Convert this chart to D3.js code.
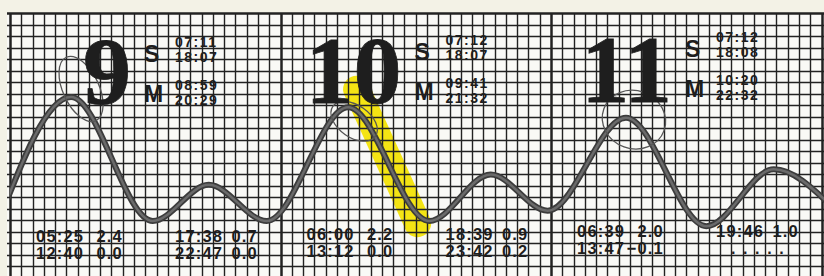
<!DOCTYPE html>
<html>
<head>
<meta charset="utf-8">
<script src="https://cdn.jsdelivr.net/npm/d3@7"></script>
<style>
  html, body { margin: 0; padding: 0; background: #f3f2e8; }
  svg { display: block; }
</style>
</head>
<body>
<svg id="chart" width="824" height="276"></svg>
<script>
// day headers
const days = ["9", "10", "11"];
const sunrise = ["07:11", "07:12", "07:12"];
const sunset = ["18:07", "18:07", "18:08"];
const moonrise = ["08:59", "09:41", "10:20"];
const moonset = ["20:29", "21:32", "22:32"];

// tide extremes per day (high, low, high, low)
const tideTimes = [
    ["05:25", "12:40", "17:38", "22:47"],
    ["06:00", "13:12", "18:39", "23:42"],
    ["06:39", "13:47", "19:46", null]
];
const tideHeights = [
    [2.4, 0.0, 0.7, 0.0],
    [2.2, 0.0, 0.9, 0.2],
    [2.0, -0.1, 1.0, null]
];

// extremes just outside the sheet, so the curve runs to the edges
const prevLow = { day: -1, time: "23:00", h: 0.0 };
const nextLow = { day: 3, time: "00:50", h: 0.3 };

const width = 824,
    height = 276;

const toHours = (day, t) => {
    const [hh, mm] = t.split(":").map(Number);
    return day * 24 + hh + mm / 60;
};

const x = d3.scaleLinear().domain([0, 48]).range([10, 551]);
const y = d3.scaleLinear().domain([0, 2.4]).range([221, 97]);
const fmt = d3.format(".1f");

let points = [{ t: toHours(prevLow.day, prevLow.time), h: prevLow.h }];
tideTimes.forEach((row, d) => row.forEach((t, i) => {
    if (t) points.push({ t: toHours(d, t), h: tideHeights[d][i] });
}));
points.push({ t: toHours(nextLow.day, nextLow.time), h: nextLow.h });

const svg = d3.select("#chart")
    .attr("viewBox", `0 0 ${width} ${height}`);

// paper
svg.append("rect").attr("width", width).attr("height", height).attr("fill", "#f3f2e6");
svg.append("rect").attr("x", 7).attr("y", 13).attr("width", width - 7).attr("height", height - 13)
    .attr("fill", "#f9f9f6");

svg.append("defs").append("clipPath").attr("id", "sheet")
    .append("rect").attr("x", x(0)).attr("y", 13).attr("width", width - x(0)).attr("height", height - 13);

// yellow marker stroke on day 10, under the grid
svg.append("line")
    .attr("x1", x(toHours(1, "06:45"))).attr("y1", y(2.55))
    .attr("x2", x(toHours(1, "12:10"))).attr("y2", y(-0.05))
    .attr("stroke", "#f4e414")
    .attr("stroke-width", 27)
    .attr("stroke-linecap", "round");

// graph paper
const grid = svg.append("g").attr("class", "grid").attr("stroke", "#222");
grid.selectAll("line.v")
    .data(d3.range(0, 73))
    .enter().append("line")
    .attr("class", "v")
    .attr("x1", d => Math.round(x(d)) + 0.5).attr("x2", d => Math.round(x(d)) + 0.5)
    .attr("y1", 13).attr("y2", height)
    .attr("stroke-width", d => d % 24 === 0 ? 2.5 : 1.4);
grid.selectAll("line.h")
    .data(d3.range(13, height + 1, 11.5))
    .enter().append("line")
    .attr("class", "h")
    .attr("x1", 7).attr("x2", width)
    .attr("y1", d => Math.round(d) + 0.5).attr("y2", d => Math.round(d) + 0.5)
    .attr("stroke-width", (d, i) => i === 0 ? 2.5 : 1.4);

// tide curve
const line = d3.line()
    .x(d => x(d.t))
    .y(d => y(d.h))
    .curve(d3.curveMonotoneX);

svg.append("path")
    .datum(points)
    .attr("clip-path", "url(#sheet)")
    .attr("d", line)
    .attr("fill", "none")
    .attr("stroke", "#3c3c3c")
    .attr("stroke-width", 6);
svg.append("path")
    .datum(points)
    .attr("clip-path", "url(#sheet)")
    .attr("d", line)
    .attr("fill", "none")
    .attr("stroke", "#6a6a6a")
    .attr("stroke-width", 2.5);

// pen loops drawn round the morning highs
const loops = [
    { d: 0, dx: 10, dy: -8, rx: 18, ry: 35, rot: -25 },
    { d: 1, dx: 6, dy: 14, rx: 26, ry: 16, rot: 35 },
    { d: 2, dx: 8, dy: 2, rx: 32, ry: 29, rot: 20 }
];
svg.append("g").selectAll("ellipse")
    .data(loops)
    .enter().append("ellipse")
    .attr("transform", l => {
        const cx = x(toHours(l.d, tideTimes[l.d][0])) + l.dx;
        const cy = y(tideHeights[l.d][0]) + l.dy;
        return `translate(${cx},${cy}) rotate(${l.rot})`;
    })
    .attr("rx", l => l.rx).attr("ry", l => l.ry)
    .attr("fill", "none")
    .attr("stroke", "#555")
    .attr("stroke-width", 1.3);

// headers
const ink = "#1e1e1e";
const head = svg.append("g").attr("fill", ink);
days.forEach((day, d) => {
    const x0 = x(d * 24);
    const tilt = d * 2.5;

    head.append("text")
        .attr("x", x0 + 121).attr("y", 104 - tilt * 0.5)
        .attr("text-anchor", "end")
        .attr("font-family", "Liberation Serif")
        .attr("font-weight", "bold")
        .attr("font-size", 96)
        .attr("stroke", ink)
        .attr("stroke-width", 0.8)
        .text(day);

    head.append("text")
        .attr("x", x0 + 134).attr("y", 62 - tilt)
        .attr("font-family", "Liberation Sans")
        .attr("font-weight", "bold")
        .attr("font-size", 23)
        .text("S");
    head.append("text")
        .attr("x", x0 + 134).attr("y", 102 - tilt)
        .attr("font-family", "Liberation Sans")
        .attr("font-weight", "bold")
        .attr("font-size", 23)
        .text("M");

    [[sunrise[d], 47], [sunset[d], 62], [moonrise[d], 90], [moonset[d], 105]].forEach(([t, by]) => {
        head.append("text")
            .attr("x", x0 + 165).attr("y", by - tilt)
            .attr("font-family", "Liberation Sans")
            .attr("font-weight", "bold")
            .attr("font-size", 14)
            .attr("letter-spacing", 1.5)
            .text(t);
    });

    // tide table at the foot
    tideTimes[d].forEach((t, i) => {
        const col = Math.floor(i / 2);
        const by = (i % 2 === 0 ? 242 : 259) - tilt;
        if (t === null) {
            head.append("text")
                .attr("x", x0 + 180).attr("y", by)
                .attr("font-family", "Liberation Sans")
                .attr("font-weight", "bold")
                .attr("font-size", 16)
                .attr("letter-spacing", 7.6)
                .text(".....");
            return;
        }
        head.append("text")
            .attr("x", x0 + (col === 0 ? 26 : 165)).attr("y", by)
            .attr("font-family", "Liberation Sans")
            .attr("font-weight", "bold")
            .attr("font-size", 16.5)
            .attr("letter-spacing", 1.2)
            .text(t);
        head.append("text")
            .attr("x", x0 + (col === 0 ? 113 : 248)).attr("y", by)
            .attr("text-anchor", "end")
            .attr("font-family", "Liberation Sans")
            .attr("font-weight", "bold")
            .attr("font-size", 16.5)
            .attr("letter-spacing", 1.2)
            .text(fmt(tideHeights[d][i]));
    });
});
</script>
</body>
</html>
